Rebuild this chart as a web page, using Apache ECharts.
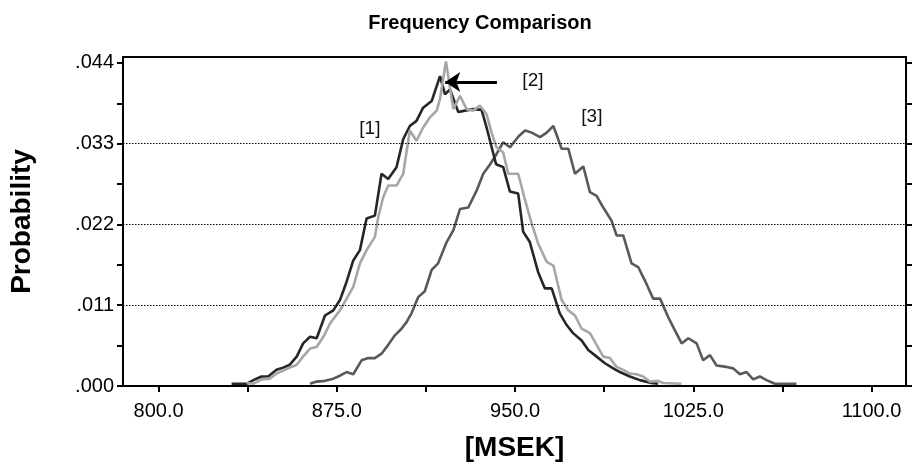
<!DOCTYPE html>
<html>
<head>
<meta charset="utf-8">
<script src="https://cdn.jsdelivr.net/npm/echarts@6/dist/echarts.min.js"></script>
<style>
  html, body { margin: 0; padding: 0; background: #fff; }
  #chart { width: 922px; height: 468px; }
</style>
</head>
<body>
<div id="chart"></div>
<script>
// x ticks / labels
var xMin = 785, xMax = 1114.5;
var xTicks = [800, 837.5, 875, 912.5, 950, 987.5, 1025, 1062.5, 1100];
var xLabels = [800, 875, 950, 1025, 1100];
var yTicks = [0, 0.0055, 0.011, 0.0165, 0.022, 0.0275, 0.033, 0.0385, 0.044];
var yLabels = [0, 0.011, 0.022, 0.033, 0.044];
var gridValues = [0.011, 0.022, 0.033];

// [1] dark
var series1 = [
  [830.7, 0.0003], [837.0, 0.0003], [840.5, 0.0009], [843.3, 0.0013], [846.1, 0.0013],
  [849.6, 0.0022], [852.4, 0.0025], [855.2, 0.0029], [858.1, 0.0040], [860.8, 0.0058],
  [863.7, 0.0067], [866.5, 0.0065], [870.0, 0.0096], [873.5, 0.0103], [876.3, 0.0117],
  [879.1, 0.0142], [881.9, 0.0171], [884.7, 0.0185], [887.5, 0.0228], [891.0, 0.0232],
  [893.8, 0.0289], [896.6, 0.0282], [900.1, 0.0298], [902.9, 0.0336], [905.7, 0.0354],
  [908.5, 0.0361], [911.3, 0.0379], [914.9, 0.0388], [918.4, 0.0422], [920.5, 0.0397],
  [922.6, 0.0404], [926.1, 0.0373], [928.9, 0.0375], [932.4, 0.0377], [935.9, 0.0376],
  [938.0, 0.0352], [942.0, 0.0302], [945.0, 0.0298], [947.8, 0.0265], [951.3, 0.0262],
  [953.4, 0.0210], [956.2, 0.0196], [959.7, 0.0155], [962.5, 0.0133], [965.4, 0.0133],
  [968.8, 0.0099], [971.7, 0.0083], [974.4, 0.0072], [978.0, 0.0062], [980.8, 0.0049],
  [984.3, 0.0040], [987.8, 0.0031], [991.3, 0.0024], [994.1, 0.0019], [998.3, 0.0013],
  [1002.5, 0.0008], [1007.4, 0.0004], [1010.2, 0.0003]
];

// [2] light
var series2 = [
  [837.0, 0.0004], [839.8, 0.0003], [843.3, 0.0009], [846.8, 0.0010], [849.6, 0.0017],
  [852.4, 0.0021], [855.2, 0.0025], [858.1, 0.0029], [860.8, 0.0040], [863.7, 0.0051],
  [866.5, 0.0053], [869.3, 0.0067], [872.1, 0.0085], [876.3, 0.0103], [879.1, 0.0119],
  [881.9, 0.0135], [884.7, 0.0167], [887.5, 0.0185], [891.0, 0.0203], [892.4, 0.0230],
  [894.5, 0.0257], [896.6, 0.0273], [900.1, 0.0273], [902.9, 0.0289], [905.7, 0.0348],
  [908.5, 0.0334], [911.3, 0.0352], [914.2, 0.0366], [917.0, 0.0375], [918.4, 0.0391],
  [920.9, 0.0442], [924.0, 0.0377], [926.8, 0.0395], [929.6, 0.0377], [932.4, 0.0375],
  [935.2, 0.0382], [938.0, 0.0370], [940.1, 0.0345], [942.2, 0.0325], [945.0, 0.0318],
  [947.1, 0.0289], [951.3, 0.0289], [954.2, 0.0253], [957.0, 0.0221], [959.7, 0.0194],
  [963.3, 0.0169], [966.1, 0.0164], [969.6, 0.0117], [972.4, 0.0103], [975.2, 0.0096],
  [978.0, 0.0078], [981.5, 0.0072], [984.3, 0.0056], [987.1, 0.0040], [989.9, 0.0038],
  [992.7, 0.0026], [995.5, 0.0022], [998.3, 0.0017], [1001.1, 0.0016], [1003.9, 0.0013],
  [1006.7, 0.0006], [1010.2, 0.0007], [1012.3, 0.0004], [1020.0, 0.0003]
];

// [3] medium
var series3 = [
  [863.7, 0.0003], [866.5, 0.0006], [870.0, 0.0007], [873.5, 0.0010], [876.3, 0.0014],
  [879.1, 0.0019], [881.9, 0.0016], [885.4, 0.0035], [888.2, 0.0038], [891.0, 0.0038],
  [893.8, 0.0044], [896.6, 0.0056], [899.4, 0.0069], [902.2, 0.0078], [904.3, 0.0087],
  [906.4, 0.0099], [909.2, 0.0121], [912.0, 0.0129], [914.9, 0.0158], [917.6, 0.0167],
  [921.2, 0.0196], [924.0, 0.0212], [926.8, 0.0241], [930.3, 0.0243], [933.8, 0.0266],
  [936.6, 0.0289], [939.5, 0.0302], [942.2, 0.0316], [945.0, 0.0332], [947.8, 0.0325],
  [951.5, 0.0340], [954.2, 0.0348], [957.0, 0.0345], [960.5, 0.0339], [963.3, 0.0345],
  [966.1, 0.0354], [969.6, 0.0323], [972.4, 0.0323], [975.2, 0.0289], [978.7, 0.0299],
  [981.5, 0.0264], [984.3, 0.0259], [987.1, 0.0243], [990.6, 0.0225], [992.7, 0.0205],
  [995.5, 0.0205], [999.0, 0.0167], [1001.8, 0.0162], [1005.3, 0.0139], [1008.1, 0.0119],
  [1011.0, 0.0119], [1014.4, 0.0094], [1017.2, 0.0076], [1020.1, 0.0058], [1022.9, 0.0065],
  [1026.4, 0.0058], [1029.1, 0.0035], [1032.0, 0.0042], [1034.8, 0.0028], [1039.0, 0.0026],
  [1041.8, 0.0024], [1044.6, 0.0016], [1047.4, 0.0019], [1050.2, 0.0009], [1053.0, 0.0013],
  [1055.8, 0.0008], [1059.3, 0.0003], [1068.4, 0.0003]
];

// annotation anchors (data coords)
var notes = [
  { name: '[1]', coord: [888.9, 0.0350] },
  { name: '[2]', coord: [957.5, 0.0416] },
  { name: '[3]', coord: [982.3, 0.0367] }
];
var arrowFrom = [942.4, 0.0414];
var arrowTo = [920.6, 0.0414];

var FONT = 'Liberation Sans, Arial, sans-serif';

var chart = echarts.init(document.getElementById('chart'));

function lineSeries(name, data, color) {
  return {
    name: name,
    type: 'line',
    data: data,
    symbol: 'none',
    showSymbol: false,
    animation: false,
    lineStyle: { color: color, width: 2.6 },
    itemStyle: { color: color }
  };
}

var s1 = lineSeries('[1]', series1, '#262626');
var s2 = lineSeries('[2]', series2, '#a6a6a6');
var s3 = lineSeries('[3]', series3, '#595959');

// dotted grid lines across the whole plot
s3.markLine = {
  silent: true,
  symbol: 'none',
  animation: false,
  label: { show: false },
  lineStyle: { color: '#000', width: 1, type: [1.5, 1.5] },
  data: gridValues.map(function (v) { return [{ coord: [xMin, v] }, { coord: [xMax, v] }]; })
};
// arrow pointing at peak [2]
s1.markLine = {
  silent: true,
  animation: false,
  label: { show: false },
  symbol: ['none', 'arrow'],
  symbolSize: 15,
  lineStyle: { color: '#000', width: 3, type: 'solid' },
  data: [[{ coord: arrowFrom }, { coord: arrowTo }]]
};
s2.markPoint = {
  silent: true,
  animation: false,
  symbol: 'circle',
  symbolSize: 0,
  label: {
    show: true,
    position: 'inside',
    formatter: '{b}',
    color: '#111',
    fontSize: 19,
    fontFamily: FONT
  },
  data: notes.map(function (n) { return { name: n.name, coord: n.coord }; })
};

var option = {
  backgroundColor: '#fff',
  animation: false,
  title: {
    text: 'Frequency Comparison',
    left: 475,
    top: 8,
    textAlign: 'center',
    textStyle: { fontSize: 20, fontWeight: 'bold', color: '#000', fontFamily: FONT }
  },
  grid: { left: 123, right: 16, top: 57, bottom: 82, containLabel: false, outerBoundsMode: 'none' },
  xAxis: [{
    type: 'value',
    position: 'bottom',
    min: xMin,
    max: xMax,
    name: '[MSEK]',
    nameLocation: 'middle',
    nameGap: 48,
    nameTextStyle: { fontSize: 28, fontWeight: 'bold', color: '#000', fontFamily: FONT },
    axisLine: { onZero: false, lineStyle: { color: '#000', width: 2 } },
    axisTick: { show: true, inside: false, length: 6, customValues: xTicks, lineStyle: { color: '#000', width: 2 } },
    axisLabel: {
      customValues: xLabels, margin: 15, fontSize: 20, color: '#000', fontFamily: FONT,
      formatter: function (v) { return v.toFixed(1); }
    },
    splitLine: { show: false }
  }, {
    type: 'value',
    position: 'top',
    min: xMin,
    max: xMax,
    axisLine: { onZero: false, lineStyle: { color: '#000', width: 2 } },
    axisTick: { show: false },
    axisLabel: { show: false },
    splitLine: { show: false }
  }],
  yAxis: [{
    type: 'value',
    position: 'left',
    min: 0,
    max: 0.0448,
    name: 'Probability',
    nameLocation: 'middle',
    nameGap: 87,
    nameRotate: 90,
    nameTextStyle: { fontSize: 28, fontWeight: 'bold', color: '#000', fontFamily: FONT },
    axisLine: { show: true, onZero: false, lineStyle: { color: '#000', width: 2 } },
    axisTick: { show: true, inside: false, length: 6, customValues: yTicks, lineStyle: { color: '#000', width: 2 } },
    axisLabel: {
      customValues: yLabels, margin: 9, fontSize: 20, color: '#000', fontFamily: FONT,
      formatter: function (v) { return '.' + String(Math.round(v * 1000)).padStart(3, '0'); }
    },
    splitLine: { show: false }
  }, {
    type: 'value',
    position: 'right',
    min: 0,
    max: 0.0448,
    axisLine: { show: true, onZero: false, lineStyle: { color: '#000', width: 2 } },
    axisTick: { show: true, inside: false, length: 6, customValues: yTicks, lineStyle: { color: '#000', width: 2 } },
    axisLabel: { show: false },
    splitLine: { show: false }
  }],
  series: [s3, s1, s2]
};

chart.setOption(option);
</script>
</body>
</html>
